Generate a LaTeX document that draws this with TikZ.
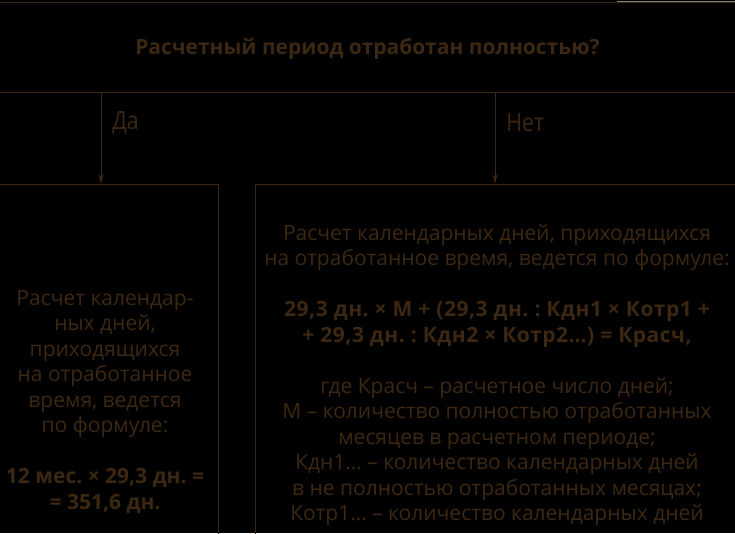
\documentclass[tikz,border=0pt]{standalone}
\usepackage{fontspec}
\setmainfont{Open Sans}
\newfontfamily\condfont[FakeStretch = 0.85]{Open Sans}
\newfontfamily\widebold[LetterSpace = 2.5]{Open Sans Bold}
\usetikzlibrary{arrows.meta}
\definecolor{brownink}{RGB}{60,40,18}
\frenchspacing
\begin{document}
\begin{tikzpicture}[x = 1pt, y = -1pt,
    box/.style = {draw = brownink, line width = .8pt, inner sep = 0pt},
    txt/.style = {text = brownink, align = center, inner sep = 0pt,
      font = \fontsize{21}{25.5}\selectfont},
    answer/.style = {text = brownink, inner sep = 0pt, font = \condfont\fontsize{25}{30}\selectfont},
    arr/.style = {draw = brownink, line width = .8pt, -{Stealth[length = 10pt, width = 5pt]}}]
  \fill[black] (0, 0) rectangle (735, 533);
  \useasboundingbox (0, 0) rectangle (735, 533);
  \def\boxtop{184}
  % question
  \node[box, minimum width = 770pt, minimum height = 90pt] (question) at (367.5, 47) {};
  \node[txt, font = \fontsize{21}{25.5}\selectfont\bfseries] (questiontxt) at ([yshift = -2pt]question.center) {Расчетный период отработан полностью?};
  \draw[gray, line width = .6pt] (617, 1.5)--(735, 1.5);
  % answers
  \node[box, minimum width = 234pt, minimum height = 380pt, anchor = north] (yes) at (101, \boxtop) {};
  \node[box, minimum width = 480pt, minimum height = 380pt, anchor = north] (no) at (495, \boxtop) {};
  \draw[arr] (question.south -| yes.north)--(yes.north) node[pos = .33, right = 11pt, answer]{Да};
  \draw[arr] (question.south -| no.north)--(no.north) node[pos = .33, right = 11pt, answer]{Нет};
  \node[txt, anchor = north] (yestxt) at ([xshift = 4pt, yshift = -106pt]yes.north) {Расчет календар-\\ных дней,\\приходящихся\\на отработанное\\время, ведется\\по формуле:\\[25.5pt]
    \textbf{12 мес. × 29,3 дн. =}\\\textbf{= 351,6 дн.}};
  \node[txt, anchor = north] (notxt) at ([xshift = 2pt, yshift = -40pt]no.north) {Расчет календарных дней, приходящихся\\на отработанное время, ведется по формуле:\\[25.5pt]
    {\widebold 29,3 дн. × М + (29,3 дн. : Кдн1 × Котр1 +}\\{\widebold + 29,3 дн. : Кдн2 × Котр2…) = Красч,}\\[25.5pt]
    где Красч – расчетное число дней;\\М – количество полностью отработанных\\месяцев в расчетном периоде;\\Кдн1… – количество календарных дней\\в не полностью отработанных месяцах;\\Котр1… – количество календарных дней};
\end{tikzpicture}
\end{document}
